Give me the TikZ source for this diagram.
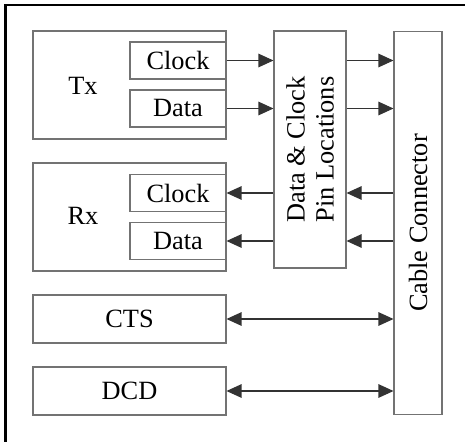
\documentclass[tikz,border=0pt]{standalone}
\usepackage{fontspec}
\setmainfont{Liberation Serif}
\usepackage{tikz}
\usetikzlibrary{arrows.meta, positioning}

\begin{document}
\begin{tikzpicture}[
    x=0.02cm, y=-0.02cm,
    font=\fontsize{15}{16.5}\selectfont,
    unit/.style={draw=black!55, line width=0.6pt, minimum width=3.86cm, inner sep=0pt},
    port/.style={draw=black!55, line width=0.6pt, fill=white, minimum width=1.92cm, minimum height=0.74cm, inner sep=0pt},
    vbox/.style={draw=black!55, line width=0.6pt, inner sep=0pt},
    sig/.style={draw=black!80, line width=0.6pt, -{Triangle[length=0.3cm, width=0.27cm]}},
    bisig/.style={draw=black!80, line width=0.6pt, {Triangle[length=0.3cm, width=0.27cm]}-{Triangle[length=0.3cm, width=0.27cm]}}
]

    \useasboundingbox (0,0) rectangle (465,442);

    % Frame (only top and left edges show)
    \draw[line width=1.2pt] (465,5) -- (5.5,5) -- (5.5,442);

    % Transmitter and receiver
    \node[unit, minimum height=2.16cm] (tx) at (129.5,85) {};
    \node (txlbl) at (83,86) {Tx};
    \node[port] (txclk) at (178,60.5) {Clock};
    \node[port] (txdat) at (178,108.5) {Data};

    \node[unit, minimum height=2.16cm] (rx) at (129.5,217) {};
    \node (rxlbl) at (83,216) {Rx};
    \node[port] (rxclk) at (178,193) {Clock};
    \node[port] (rxdat) at (178,241) {Data};

    % Control lines
    \node[unit, minimum height=0.96cm] (cts) at (129.5,319) {CTS};
    \node[unit, minimum height=0.96cm] (dcd) at (129.5,391) {DCD};

    % Pin locations and connector
    \node[vbox, minimum width=1.44cm, minimum height=4.74cm] (pins) at (310,149.5) {};
    \node[rotate=90, align=center] (pinslbl) at (pins.center) {Data \& Clock\\Pin Locations};
    \node[vbox, minimum width=0.96cm, minimum height=7.68cm] (cable) at (418,223) {};
    \node[rotate=90] (cablelbl) at (cable.center) {Cable Connector};

    % Signals
    \draw[sig] (txclk.east) -- (txclk.east -| pins.west);
    \draw[sig] (txdat.east) -- (txdat.east -| pins.west);
    \draw[sig] (pins.east |- txclk.east) -- (cable.west |- txclk.east);
    \draw[sig] (pins.east |- txdat.east) -- (cable.west |- txdat.east);

    \draw[sig] (rxclk.east -| pins.west) -- (rxclk.east);
    \draw[sig] (rxdat.east -| pins.west) -- (rxdat.east);
    \draw[sig] (cable.west |- rxclk.east) -- (pins.east |- rxclk.east);
    \draw[sig] (cable.west |- rxdat.east) -- (pins.east |- rxdat.east);

    \draw[bisig] (cts.east) -- (cable.west |- cts.east);
    \draw[bisig] (dcd.east) -- (cable.west |- dcd.east);

\end{tikzpicture}
\end{document}
